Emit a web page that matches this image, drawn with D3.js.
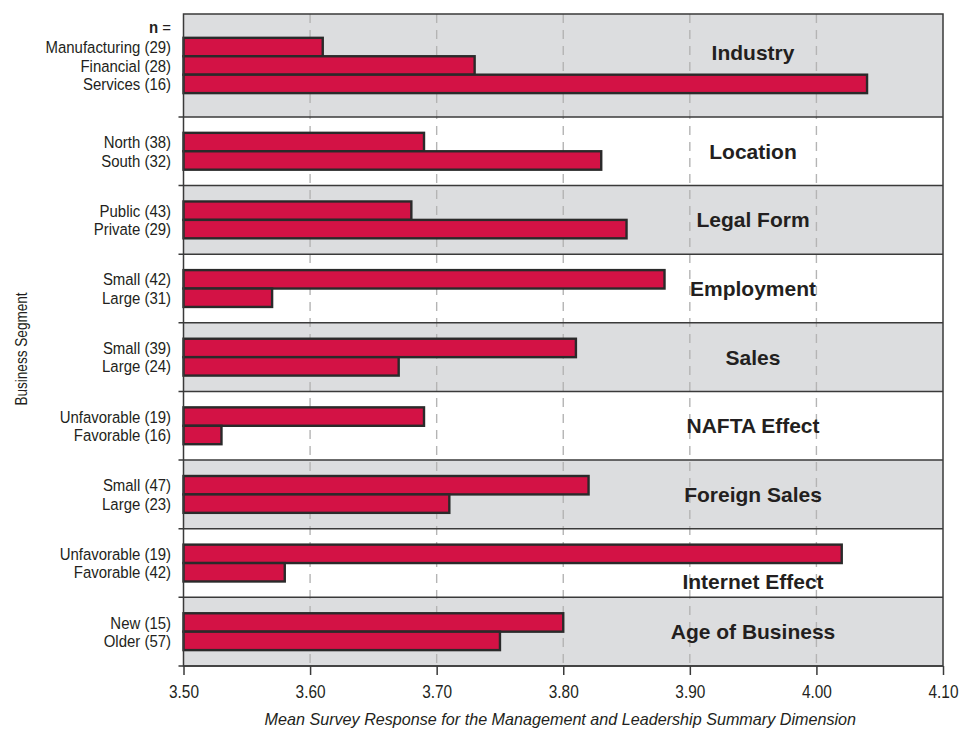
<!DOCTYPE html>
<html>
<head>
<meta charset="utf-8">
<script src="https://cdn.jsdelivr.net/npm/d3@7"></script>
<style>
  body { margin: 0; background: #fff; }
  text { font-family: "Liberation Sans", Arial, sans-serif; }
</style>
</head>
<body>
<svg width="959" height="730"></svg>
<script>
// chart data
const groups = ["Industry", "Location", "Legal Form", "Employment", "Sales",
  "NAFTA Effect", "Foreign Sales", "Internet Effect", "Age of Business"];
const categories = [
  ["Manufacturing (29)", "Financial (28)", "Services (16)"],
  ["North (38)", "South (32)"],
  ["Public (43)", "Private (29)"],
  ["Small (42)", "Large (31)"],
  ["Small (39)", "Large (24)"],
  ["Unfavorable (19)", "Favorable (16)"],
  ["Small (47)", "Large (23)"],
  ["Unfavorable (19)", "Favorable (42)"],
  ["New (15)", "Older (57)"],
];
const values = [
  [3.61, 3.73, 4.04],
  [3.69, 3.83],
  [3.68, 3.85],
  [3.88, 3.57],
  [3.81, 3.67],
  [3.69, 3.53],
  [3.82, 3.71],
  [4.02, 3.58],
  [3.80, 3.75],
];
const xTicks = [3.5, 3.6, 3.7, 3.8, 3.9, 4.0, 4.1];
const xTitle = "Mean Survey Response for the Management and Leadership Summary Dimension";
const yTitle = "Business Segment";

const LEFT = 183.5, RIGHT = 943, TOP = 14, BOTTOM = 666;
const NARROW = 0.88; // the original uses a condensed face, squeeze plain sans to match
const barColor = "#d31245";
const barStroke = "#2a2a2a";
const shade = "#dcdddf";
const frameColor = "#3a3a3a";
const textColor = "#231f20";

// group label nudges (px) where the original moves the label off centre
const labelNudge = { "Industry": -13, "Internet Effect": 18 };

const svg = d3.select("svg");

// each group gets one slot per bar
const starts = [];
let total = 0;
values.forEach((v) => { starts.push(total); total += v.length; });

const x = d3.scaleLinear().domain([3.5, 4.1]).range([LEFT, RIGHT]);
const y = d3.scaleLinear().domain([0, total]).range([TOP, BOTTOM]);
const slot = y(1) - y(0);
const barH = slot * 0.537;

// group backgrounds
svg.append("g")
  .selectAll("rect")
  .data(groups)
  .enter()
  .append("rect")
  .attr("x", LEFT)
  .attr("y", (d, i) => y(starts[i]))
  .attr("width", RIGHT - LEFT)
  .attr("height", (d, i) => y(starts[i] + values[i].length) - y(starts[i]))
  .attr("fill", (d, i) => (i % 2 === 0 ? shade : "#fff"));

// dashed grid
svg.append("g")
  .selectAll("line")
  .data(xTicks.slice(1, -1))
  .enter()
  .append("line")
  .attr("x1", (d) => x(d))
  .attr("x2", (d) => x(d))
  .attr("y1", TOP)
  .attr("y2", BOTTOM)
  .attr("stroke", "#b4b4b4")
  .attr("stroke-width", 1.4)
  .attr("stroke-dasharray", "9,7");

// bars
const bars = [];
values.forEach((v, gi) => {
  const center = y(starts[gi] + v.length / 2);
  const top0 = center - (v.length * barH) / 2;
  v.forEach((val, bi) => {
    bars.push({ value: val, label: categories[gi][bi], y: top0 + bi * barH });
  });
});

svg.append("g")
  .selectAll("rect")
  .data(bars)
  .enter()
  .append("rect")
  .attr("x", x(3.5))
  .attr("y", (d) => d.y)
  .attr("width", (d) => x(d.value) - x(3.5))
  .attr("height", barH)
  .attr("fill", barColor)
  .attr("stroke", barStroke)
  .attr("stroke-width", 2.4);

// category labels
svg.append("g")
  .selectAll("text")
  .data(bars)
  .enter()
  .append("text")
  .attr("transform", (d) => `translate(171,${d.y + barH / 2}) scale(${NARROW},1)`)
  .attr("dy", "0.36em")
  .attr("text-anchor", "end")
  .attr("font-size", "17px")
  .attr("fill", textColor)
  .text((d) => d.label);

const nLabel = svg.append("text")
  .attr("transform", `translate(171,${bars[0].y - barH * 0.6}) scale(${NARROW},1)`)
  .attr("dy", "0.36em")
  .attr("text-anchor", "end")
  .attr("font-size", "17px")
  .attr("fill", textColor);
nLabel.append("tspan").attr("font-weight", "bold").text("n");
nLabel.append("tspan").text(" =");

// group titles
svg.append("g")
  .selectAll("text")
  .data(groups)
  .enter()
  .append("text")
  .attr("x", 753)
  .attr("y", (d, i) => y(starts[i] + values[i].length / 2) + (labelNudge[d] || 0))
  .attr("dy", "0.36em")
  .attr("text-anchor", "middle")
  .attr("font-size", "21px")
  .attr("font-weight", "bold")
  .attr("fill", textColor)
  .text((d) => d);

// group separators with left ticks
const bounds = starts.slice(1).concat([total]);
svg.append("g")
  .selectAll("line")
  .data(bounds)
  .enter()
  .append("line")
  .attr("x1", LEFT - 5)
  .attr("x2", RIGHT)
  .attr("y1", (d) => y(d))
  .attr("y2", (d) => y(d))
  .attr("stroke", frameColor)
  .attr("stroke-width", 1.5);

// frame
svg.append("rect")
  .attr("x", LEFT)
  .attr("y", TOP)
  .attr("width", RIGHT - LEFT)
  .attr("height", BOTTOM - TOP)
  .attr("fill", "none")
  .attr("stroke", frameColor)
  .attr("stroke-width", 1.5);

// x axis
const xAxis = svg.append("g")
  .attr("transform", `translate(0,${BOTTOM})`)
  .call(d3.axisBottom(x).tickValues(xTicks).tickFormat(d3.format(".2f")).tickSize(9).tickPadding(11));
xAxis.select(".domain").remove();
xAxis.selectAll("line").attr("stroke", frameColor).attr("stroke-width", 1.5);
xAxis.attr("font-family", null).attr("font-size", null);
xAxis.selectAll("text")
  .attr("font-size", "17.5px")
  .attr("fill", textColor)
  .attr("transform", `scale(${NARROW},1)`);

// axis titles
svg.append("text")
  .attr("transform", `translate(${(LEFT + RIGHT) / 2 - 3},719) scale(0.95,1)`)
  .attr("dy", "0.35em")
  .attr("text-anchor", "middle")
  .attr("font-size", "17px")
  .attr("font-style", "italic")
  .attr("fill", textColor)
  .text(xTitle);

svg.append("text")
  .attr("transform", "translate(21,349) rotate(-90) scale(0.8,1)")
  .attr("dy", "0.35em")
  .attr("text-anchor", "middle")
  .attr("font-size", "17px")
  .attr("fill", textColor)
  .text(yTitle);
</script>
</body>
</html>
